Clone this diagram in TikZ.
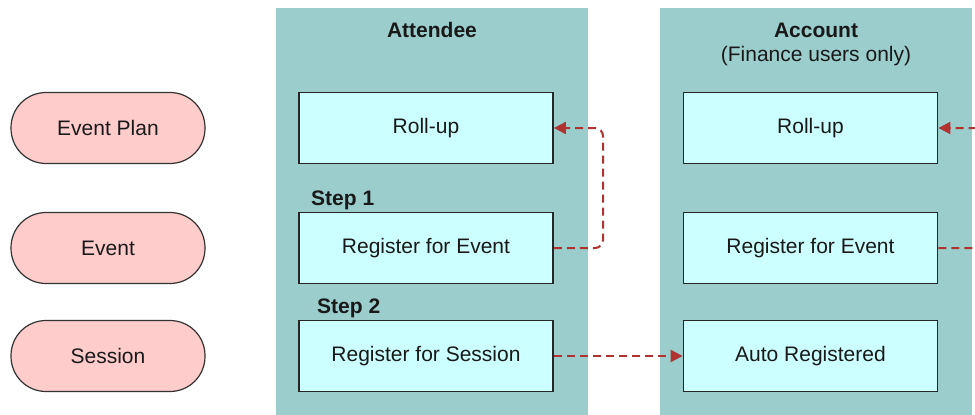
\documentclass[tikz,border=0pt]{standalone}
\usepackage{fontspec}
\setmainfont{Liberation Sans}
\usetikzlibrary{arrows.meta}
\definecolor{colfill}{RGB}{155,205,205}
\definecolor{boxfill}{RGB}{204,255,255}
\definecolor{pillfill}{RGB}{255,204,204}
\definecolor{arrowred}{RGB}{178,50,50}
\tikzset{
  lbl/.style={font=\fontsize{21}{25}\selectfont, text=black!90},
  column/.style={fill=colfill, draw=none, inner sep=0pt, minimum width=312pt, minimum height=407pt, anchor=north west},
  pill/.style={lbl, draw=black!80, line width=1.2pt, fill=pillfill, rounded corners=35pt, minimum width=194pt, minimum height=71pt, inner sep=0pt},
  boxnode/.style={lbl, draw=black!85, line width=1.8pt, fill=boxfill, minimum width=254pt, minimum height=71pt, inner sep=0pt},
  title/.style={font=\fontsize{21}{25}\selectfont\bfseries, text=black!90},
  steplbl/.style={font=\fontsize{21}{25}\selectfont\bfseries, text=black!90, anchor=west, inner sep=0pt},
  flow/.style={draw=arrowred, line width=2pt, dash pattern=on 8pt off 5pt, -{Triangle[length=12pt,width=12pt]}, rounded corners=8pt}
}
\begin{document}
\begin{tikzpicture}[x=1pt,y=-1pt]
\clip (0,0) rectangle (975,415);
\fill[white] (0,0) rectangle (975,415);
% columns
\node[column] (colA) at (276,8) {};
\node[column] (colB) at (660,8) {};
\node[title] (tA) at (432,30) {Attendee};
\node[title] (tB) at (816,30) {Account};
\node[lbl] (tB2) at (816,56) {(Finance users only)};
% pills
\node[pill] (p1) at (108,128) {Event Plan};
\node[pill] (p2) at (108,248) {Event};
\node[pill] (p3) at (108,356) {Session};
% attendee boxes
\node[boxnode] (a1) at (426,128) {Roll-up};
\node[boxnode] (a2) at (426,248) {Register for Event};
\node[boxnode] (a3) at (426,356) {Register for Session};
% account boxes
\node[boxnode] (b1) at (810.5,128) {Roll-up};
\node[boxnode] (b2) at (810.5,248) {Register for Event};
\node[boxnode] (b3) at (810.5,356) {Auto Registered};
% step labels
\node[steplbl] (s1) at (311,200) {Step 1};
\node[steplbl] (s2) at (317,308) {Step 2};
% connectors
\coordinate (ra) at (603,0);
\coordinate (rb) at (992,0);
\draw[flow] (a2.east) -- (a2.east -| ra) -- (a1.east -| ra) -- (a1.east);
\draw[flow] (b2.east) -- (b2.east -| rb) -- (b1.east -| rb) -- (b1.east);
\draw[flow] (a3.east) -- (b3.west);
\end{tikzpicture}
\end{document}
